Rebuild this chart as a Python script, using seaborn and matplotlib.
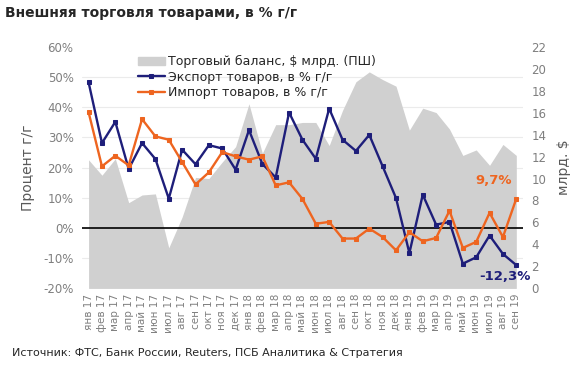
import numpy as np
import matplotlib
matplotlib.use("Agg")
import matplotlib.pyplot as plt
import seaborn as sns
from matplotlib.ticker import FixedLocator, FuncFormatter
from matplotlib.patches import Patch

# ── Data ───────────────────────────────────────────────────────
MONTHS = ["янв", "фев", "мар", "апр", "май", "июн",
          "июл", "авг", "сен", "окт", "ноя", "дек"]
LABELS = [f"{m} {y}" for y in ("17", "18") for m in MONTHS] + \
         [f"{m} 19" for m in MONTHS[:9]]

EXPORT = [48.2, 28.1, 35.1, 19.5, 28.1, 22.8, 9.7, 25.9, 21.1, 27.4, 26.3,
          19.3, 32.4, 21.2, 16.7, 38.2, 29.2, 22.9, 39.5, 29.2, 25.5, 30.8,
          20.4, 9.9, -8.3, 11.0, 1.1, 2.0, -11.8, -9.7, -2.5, -8.6, -12.3]
IMPORT = [38.3, 20.4, 23.9, 20.7, 36.0, 30.3, 29.2, 21.8, 14.4, 18.4, 25.1,
          23.7, 22.6, 23.7, 14.1, 15.1, 9.6, 1.4, 2.0, -3.5, -3.5, -0.2,
          -3.0, -7.4, -1.4, -4.4, -3.3, 5.7, -6.6, -4.6, 5.0, -3.0, 9.7]
BALANCE = [11.7, 10.3, 11.8, 7.8, 8.5, 8.6, 3.7, 6.5, 10.1, 10.0, 11.5,
           12.9, 16.8, 12.3, 14.9, 14.9, 15.1, 15.1, 13.0, 16.2, 18.8, 19.7,
           19.0, 18.4, 14.4, 16.4, 16.0, 14.5, 12.1, 12.6, 11.2, 13.1, 12.1]

PCT_TICKS = list(range(-20, 61, 10))
BAL_TICKS = list(range(0, 23, 2))

C_EXP = "#1E1E7A"
C_IMP = "#EE6520"
C_BAL = "#D0D0D0"
C_TXT = "#7F7F7F"

sns.set_theme(style="white")
plt.rcParams["font.family"] = ["DejaVu Sans"]

x = np.arange(len(LABELS))

fig = plt.figure(figsize=(5.85, 3.79), dpi=100)
ax_bal = fig.add_axes([0.140, 0.239, 0.754, 0.638])
ax = ax_bal.twinx()

# balance area (right scale), drawn behind
ax_bal.fill_between(x, 0, BALANCE, color=C_BAL, linewidth=0, zorder=2)
ax_bal.set_ylim(0, 22)
ax_bal.set_xlim(-0.5, len(LABELS) - 0.5)
ax_bal.yaxis.tick_right()
ax_bal.yaxis.set_label_position("right")
ax_bal.set_yticks(BAL_TICKS)
# horizontal grid at the percent ticks, kept under the area
ax_bal.yaxis.set_minor_locator(FixedLocator([(t + 20) * 22 / 80 for t in PCT_TICKS]))
ax_bal.grid(which="minor", axis="y", color="#EBEBEB", linewidth=0.8, zorder=0)
ax_bal.set_axisbelow(True)
ax_bal.tick_params(axis="y", which="both", length=0, labelsize=8.5,
                   labelcolor=C_TXT, pad=6)
ax_bal.set_ylabel("млрд. $", fontsize=10, color="#595959", labelpad=8)

# percent lines (left scale)
ax.set_zorder(ax_bal.get_zorder() + 1)
ax.patch.set_visible(False)
ax.yaxis.tick_left()
ax.yaxis.set_label_position("left")
sns.lineplot(x=x, y=EXPORT, ax=ax, color=C_EXP, linewidth=1.7, marker="s",
             markersize=3.2, markeredgecolor=C_EXP, label="Экспорт товаров, в % г/г")
sns.lineplot(x=x, y=IMPORT, ax=ax, color=C_IMP, linewidth=1.7, marker="s",
             markersize=3.2, markeredgecolor=C_IMP, label="Импорт товаров, в % г/г")
ax.axhline(0, color="black", linewidth=1.2, zorder=1)
ax.set_ylim(-20, 60)
ax.set_yticks(PCT_TICKS)
ax.yaxis.set_major_formatter(FuncFormatter(lambda v, _: f"{v:.0f}%"))
ax.tick_params(axis="y", length=0, labelsize=8.5, labelcolor=C_TXT, pad=6)
ax.set_ylabel("Процент г/г", fontsize=10, color="#595959", labelpad=6)

ax_bal.set_xticks(x)
ax_bal.set_xticklabels(LABELS, rotation=90, fontsize=7.5, color=C_TXT)
ax_bal.tick_params(axis="x", length=0, pad=4)
ax.set_xlim(-0.5, len(LABELS) - 0.5)

for a in (ax, ax_bal):
    for s in a.spines.values():
        s.set_visible(False)

# end-point labels
ax.annotate("9,7%", (x[-1], IMPORT[-1]), xytext=(-3, 13), textcoords="offset points",
            ha="right", va="center", fontsize=9.5, fontweight="bold", color=C_IMP)
ax.annotate("-12,3%", (x[-1], EXPORT[-1]), xytext=(10, -8), textcoords="offset points",
            ha="right", va="center", fontsize=9.5, fontweight="bold", color=C_EXP)

# legend
handles, labels = ax.get_legend_handles_labels()
handles = [Patch(color=C_BAL)] + handles
labels = ["Торговый баланс, $ млрд. (ПШ)"] + labels
ax.legend(handles, labels, loc="upper left", bbox_to_anchor=(0.115, 0.985),
          frameon=False, fontsize=9, handlelength=2.2, handletextpad=0.2,
          labelspacing=0.2, borderaxespad=0)

fig.text(0.009, 0.965, "Внешняя торговля товарами, в % г/г", fontsize=10,
         fontweight="bold", ha="left", va="center")
fig.text(0.02, 0.068, "Источник: ФТС, Банк России, Reuters, ПСБ Аналитика & Стратегия",
         fontsize=8, ha="left", va="center")

fig.savefig("out.png", dpi=100)
